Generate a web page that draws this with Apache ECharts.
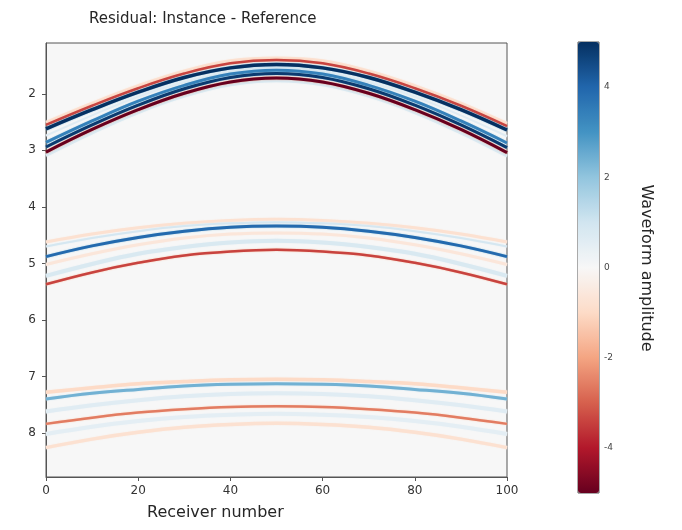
<!DOCTYPE html>
<html><head><meta charset="utf-8">
<script src="https://cdn.jsdelivr.net/npm/echarts@6/dist/echarts.min.js"></script>
<style>html,body{margin:0;padding:0;background:#fff}#c{width:682px;height:530px}</style>
</head><body><div id="c"></div>
<script>
// ---------- data ----------
const receivers = [0, 10, 20, 30, 40, 50, 60, 70, 80, 90, 100];
const xTicks = [0, 20, 40, 60, 80, 100];
const yTicks = [2, 3, 4, 5, 6, 7, 8];
const cbTicks = [-4, -2, 0, 2, 4];

// arrival time of each residual line at each receiver
const topHaloRed   = [2.50, 2.16, 1.85, 1.59, 1.41, 1.36, 1.41, 1.59, 1.85, 2.16, 2.52];
const topRed       = [2.55, 2.21, 1.90, 1.64, 1.46, 1.40, 1.46, 1.64, 1.90, 2.21, 2.57];
const topNavy      = [2.62, 2.28, 1.97, 1.71, 1.54, 1.48, 1.54, 1.71, 1.97, 2.28, 2.64];
const topPale      = [2.74, 2.38, 2.05, 1.79, 1.61, 1.54, 1.61, 1.79, 2.05, 2.38, 2.75];
const topBlue      = [2.86, 2.48, 2.13, 1.85, 1.65, 1.58, 1.65, 1.85, 2.13, 2.48, 2.87];
const topNavy2     = [2.94, 2.55, 2.20, 1.91, 1.71, 1.64, 1.71, 1.91, 2.20, 2.55, 2.95];
const topDarkRed   = [3.03, 2.63, 2.28, 1.99, 1.79, 1.72, 1.79, 1.99, 2.28, 2.63, 3.04];
const topHaloBlue  = [3.09, 2.69, 2.33, 2.04, 1.84, 1.77, 1.84, 2.04, 2.33, 2.69, 3.10];

const midOrange    = [4.62, 4.48, 4.37, 4.29, 4.24, 4.22, 4.24, 4.29, 4.37, 4.48, 4.62];
const midTeal      = [4.70, 4.55, 4.43, 4.34, 4.29, 4.27, 4.29, 4.34, 4.43, 4.55, 4.70];
const midBlue      = [4.88, 4.69, 4.54, 4.43, 4.36, 4.34, 4.36, 4.43, 4.54, 4.69, 4.88];
const midOrange2   = [5.02, 4.83, 4.67, 4.55, 4.48, 4.46, 4.48, 4.55, 4.67, 4.83, 5.02];
const midLightBlue = [5.22, 5.01, 4.83, 4.71, 4.63, 4.60, 4.63, 4.71, 4.83, 5.01, 5.22];
const midRed       = [5.37, 5.16, 4.99, 4.86, 4.79, 4.76, 4.79, 4.86, 4.99, 5.16, 5.37];

const lowOrange    = [7.28, 7.20, 7.13, 7.09, 7.06, 7.05, 7.06, 7.09, 7.13, 7.20, 7.28];
const lowBlue      = [7.40, 7.30, 7.23, 7.17, 7.14, 7.13, 7.14, 7.17, 7.23, 7.30, 7.40];
const lowLightBlue = [7.62, 7.51, 7.42, 7.35, 7.31, 7.30, 7.31, 7.35, 7.42, 7.51, 7.62];
const lowRed       = [7.84, 7.73, 7.64, 7.58, 7.54, 7.53, 7.54, 7.58, 7.64, 7.73, 7.84];
const lowPaleBlue  = [8.02, 7.89, 7.79, 7.72, 7.68, 7.66, 7.68, 7.72, 7.79, 7.89, 8.02];
const lowFaint     = [8.26, 8.11, 7.99, 7.90, 7.85, 7.83, 7.85, 7.90, 7.99, 8.11, 8.26];

// residual amplitude of each line (same order as lineTimes)
const lineTimes = [topHaloBlue, topHaloRed, topPale, topRed, topDarkRed, topBlue, topNavy, topNavy2,
                   midOrange, midTeal, midOrange2, midLightBlue, midBlue, midRed,
                   lowOrange, lowLightBlue, lowPaleBlue, lowFaint, lowBlue, lowRed];
const amplitudes = [0.8, -0.8, 0.6, -3.4, -5.0, 3.4, 5.0, 4.8,
                    -0.8, 0.9, -0.6, 0.8, 3.9, -3.4,
                    -1.0, 0.6, 0.5, -0.8, 2.4, -2.6];

// ---------- styles ----------
const lineWidths = [3, 2.5, 2, 2.5, 3, 3, 3.5, 3,
                    3, 2, 3, 4, 3, 2.5,
                    3.5, 4, 4, 3.5, 3, 2.5];
const rdbu = ['#67001f','#b2182b','#d6604d','#f4a582','#fddbc7','#f7f7f7','#d1e5f0','#92c5de','#4393c3','#2166ac','#053061'];

function hex2rgb(h){return [parseInt(h.substr(1,2),16),parseInt(h.substr(3,2),16),parseInt(h.substr(5,2),16)];}
function cmap(v){
  let p = (v + 5) / 10 * (rdbu.length - 1);
  p = Math.max(0, Math.min(rdbu.length - 1, p));
  const i = Math.min(rdbu.length - 2, Math.floor(p)), f = p - i;
  const a = hex2rgb(rdbu[i]), b = hex2rgb(rdbu[i + 1]);
  const c = a.map((x, k) => Math.round(x + (b[k] - x) * f));
  return 'rgb(' + c.join(',') + ')';
}

const FONT = 'DejaVu Sans';
const lineSeries = lineTimes.map((arr, i) => ({
  type: 'line', xAxisIndex: 0, yAxisIndex: 0,
  data: receivers.map((r, k) => [r, arr[k]]),
  showSymbol: false, smooth: 0.4, silent: true,
  lineStyle: { color: cmap(amplitudes[i]), width: lineWidths[i], shadowBlur: 1.5, shadowColor: cmap(amplitudes[i] * 0.5) },
  z: 2 + Math.abs(amplitudes[i])
}));

const chart = echarts.init(document.getElementById('c'), null, { renderer: 'canvas' });
chart.setOption({
  animation: false,
  backgroundColor: '#ffffff',
  title: {
    text: 'Residual: Instance - Reference', left: 84, top: 7,
    textStyle: { fontFamily: FONT, fontSize: 15, fontWeight: 'normal', color: '#262626' }
  },
  grid: [
    { left: 46, top: 43, width: 461, height: 434, show: true, backgroundColor: '#f7f7f7', borderColor: '#555', borderWidth: 1 },
    { left: 578, top: 42, width: 21, height: 451, show: true, backgroundColor: 'transparent', borderColor: '#555', borderWidth: 1 }
  ],
  xAxis: [
    { type: 'value', gridIndex: 0, min: 0, max: 100, interval: 20, splitLine: { show: false },
      axisLine: { lineStyle: { color: '#555' } }, axisTick: { length: 4, lineStyle: { color: '#555' } },
      axisLabel: { fontFamily: FONT, fontSize: 12, color: '#333', margin: 8, customValues: xTicks } },
    { type: 'value', gridIndex: 1, min: 0, max: 1, show: false }
  ],
  yAxis: [
    { type: 'value', gridIndex: 0, inverse: true, min: 1.1, max: 8.78, splitLine: { show: false },
      axisLine: { lineStyle: { color: '#555' } },
      axisTick: { length: 4, customValues: yTicks, lineStyle: { color: '#555' } },
      axisLabel: { fontFamily: FONT, fontSize: 12, color: '#333', margin: 10, customValues: yTicks } },
    { type: 'value', gridIndex: 1, position: 'right', min: -5, max: 5, splitLine: { show: false },
      axisLine: { show: false },
      axisTick: { length: 3, customValues: cbTicks, lineStyle: { color: '#555' } },
      axisLabel: { fontFamily: FONT, fontSize: 9, color: '#444', margin: 5, customValues: cbTicks } }
  ],
  visualMap: {
    type: 'continuous', min: -5, max: 5, seriesIndex: lineSeries.length,
    left: 578, top: 42, itemWidth: 21, itemHeight: 451, padding: 0,
    calculable: false, text: null, showLabel: false, textGap: 0,
    inRange: { color: rdbu }, orient: 'vertical', z: 1
  },
  graphic: [
    { type: 'text', left: 147, top: 505, z: 10,
      style: { text: 'Receiver number', fontFamily: FONT, fontSize: 16, fill: '#262626' } },
    { type: 'text', x: 646, y: 268, rotation: -Math.PI / 2, z: 10,
      style: { text: 'Waveform amplitude', fontFamily: FONT, fontSize: 16, fill: '#262626', align: 'center', verticalAlign: 'middle' } }
  ],
  series: lineSeries.concat([
    { type: 'scatter', xAxisIndex: 1, yAxisIndex: 1, data: [], silent: true }
  ])
});
</script></body></html>
